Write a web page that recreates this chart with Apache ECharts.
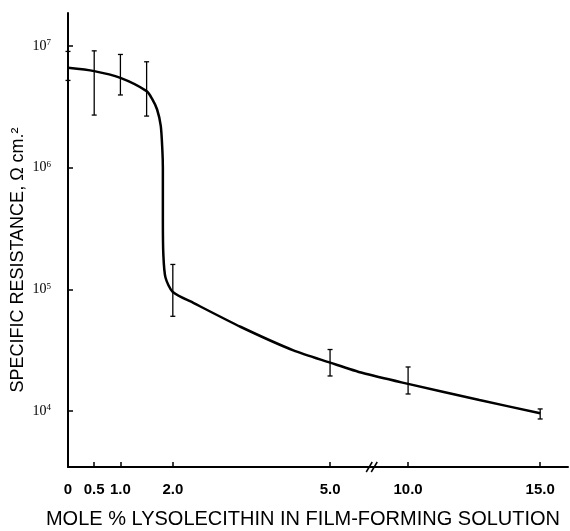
<!DOCTYPE html>
<html>
<head>
<meta charset="utf-8">
<script src="https://cdn.jsdelivr.net/npm/echarts@6/dist/echarts.min.js"></script>
<style>
html, body { margin: 0; padding: 0; background: #fff; }
#chart { width: 570px; height: 531px; }
</style>
</head>
<body>
<div id="chart"></div>
<script>
'use strict';

// x tick positions and their labels
var tickX = [0, 0.5, 1.0, 2.0, 5.0, 10.0, 15.0];
var tickLabels = ['0', '0.5', '1.0', '2.0', '5.0', '10.0', '15.0'];
// y ticks, as powers of ten
var tickExp = [4, 5, 6, 7];

// fitted curve (mole %, ohm cm2)
var curveX = [0, 0.5, 1.0, 1.5, 1.6, 1.7, 1.77, 1.8, 1.81, 1.81, 1.82, 1.86, 2.0, 2.4, 3.3, 4.3, 5.0, 7.1, 10.0, 12.7, 15.0];
var curveY = [6.6e6, 6.2e6, 5.45e6, 4.25e6, 3.7e6, 3.0e6, 2.2e6, 1.4e6, 1.0e6, 3.7e5, 1.9e5, 1.25e5, 9.5e4, 7.7e4, 4.9e4, 3.15e4, 2.5e4, 2.05e4, 1.67e4, 1.23e4, 9.6e3];

// measured points with error bars
var barX = [0, 0.5, 1.0, 1.5, 2.0, 5.0, 10.0, 15.0];
var barLow = [5.2e6, 2.7e6, 3.95e6, 2.65e6, 6.0e4, 1.94e4, 1.38e4, 8.6e3];
var barHigh = [9.0e6, 9.1e6, 8.5e6, 7.4e6, 1.6e5, 3.2e4, 2.3e4, 1.04e4];

// the axis is broken between 5 and 10, and the 10-15 part is squeezed
function scaleX(x) {
    if (x <= 5) return x;
    if (x < 10) return 5 + (x - 5) * 0.298;
    return 6.489 + (x - 10) * 0.504;
}

var myChart = echarts.init(document.getElementById('chart'));

var xTicks = tickX.map(scaleX);
var yMin = 3.54, yMax = 7.27;

var option = {
    animation: false,
    grid: { left: 68, right: 2, top: 13, bottom: 64, containLabel: false },
    xAxis: {
        type: 'value',
        min: 0,
        max: 9.54,
        splitLine: { show: false },
        axisLine: { onZero: false, lineStyle: { color: '#000', width: 2 } },
        axisTick: { inside: true, length: 5, customValues: xTicks, lineStyle: { color: '#000', width: 1.5 } },
        axisLabel: {
            customValues: xTicks,
            margin: 15,
            color: '#000',
            fontFamily: 'Liberation Sans',
            fontWeight: 'bold',
            fontSize: 15,
            formatter: function(v) {
                for (var i = 0; i < xTicks.length; i++) {
                    if (Math.abs(xTicks[i] - v) < 1e-6) return tickLabels[i];
                }
                return '';
            }
        }
    },
    yAxis: {
        type: 'value',
        min: yMin,
        max: yMax,
        splitLine: { show: false },
        axisLine: { onZero: false, lineStyle: { color: '#000', width: 2 } },
        axisTick: { inside: true, length: 5, customValues: tickExp, lineStyle: { color: '#000', width: 1.5 } },
        axisLabel: {
            customValues: tickExp,
            margin: 17,
            color: '#000',
            formatter: function(v) {
                return '{b|10}{s|' + v + '}';
            },
            rich: {
                b: { fontSize: 14, fontFamily: 'Liberation Serif', color: '#000' },
                s: { fontSize: 9, fontFamily: 'Liberation Serif', color: '#000', padding: [0, 0, 6, 0] }
            }
        }
    },
    series: [
        {
            type: 'line',
            data: curveX.map(function(x, i) { return [scaleX(x), Math.log10(curveY[i])]; }),
            smooth: 0.25,
            showSymbol: false,
            lineStyle: { color: '#000', width: 2.5 },
            z: 3
        },
        {
            type: 'custom',
            data: barX.map(function(x, i) { return [scaleX(x), Math.log10(barLow[i]), Math.log10(barHigh[i])]; }),
            renderItem: function(params, api) {
                var lo = api.coord([api.value(0), api.value(1)]);
                var hi = api.coord([api.value(0), api.value(2)]);
                var w = 2.5;
                var style = { stroke: '#000', lineWidth: 1.3 };
                return {
                    type: 'group',
                    children: [
                        { type: 'line', shape: { x1: lo[0], y1: lo[1], x2: hi[0], y2: hi[1] }, style: style },
                        { type: 'line', shape: { x1: lo[0] - w, y1: lo[1], x2: lo[0] + w, y2: lo[1] }, style: style },
                        { type: 'line', shape: { x1: hi[0] - w, y1: hi[1], x2: hi[0] + w, y2: hi[1] }, style: style }
                    ]
                };
            },
            z: 4
        }
    ],
    graphic: [
        {
            type: 'text',
            x: 18,
            y: 260,
            rotation: Math.PI / 2,
            style: {
                text: 'SPECIFIC RESISTANCE, \u03a9 cm.\u00b2',
                font: '18px "Liberation Sans"',
                fill: '#000',
                align: 'center',
                verticalAlign: 'middle'
            }
        },
        {
            type: 'text',
            x: 303,
            y: 519,
            style: {
                text: 'MOLE % LYSOLECITHIN IN FILM-FORMING SOLUTION',
                font: '20px "Liberation Sans"',
                fill: '#000',
                align: 'center',
                verticalAlign: 'middle'
            }
        }
    ]
};

myChart.setOption(option);

// break mark on the x axis
var bp = myChart.convertToPixel({ gridIndex: 0 }, [scaleX(7.7), yMin]);
myChart.setOption({
    graphic: option.graphic.concat([
        {
            type: 'group',
            x: bp[0],
            y: bp[1],
            z: 10,
            children: [
                { type: 'rect', shape: { x: -5, y: -2, width: 10, height: 4 }, style: { fill: '#fff' } },
                { type: 'line', shape: { x1: -6, y1: 5, x2: 0, y2: -5 }, style: { stroke: '#000', lineWidth: 1.5 } },
                { type: 'line', shape: { x1: -1, y1: 5, x2: 5, y2: -5 }, style: { stroke: '#000', lineWidth: 1.5 } }
            ]
        }
    ])
});
</script>
</body>
</html>
